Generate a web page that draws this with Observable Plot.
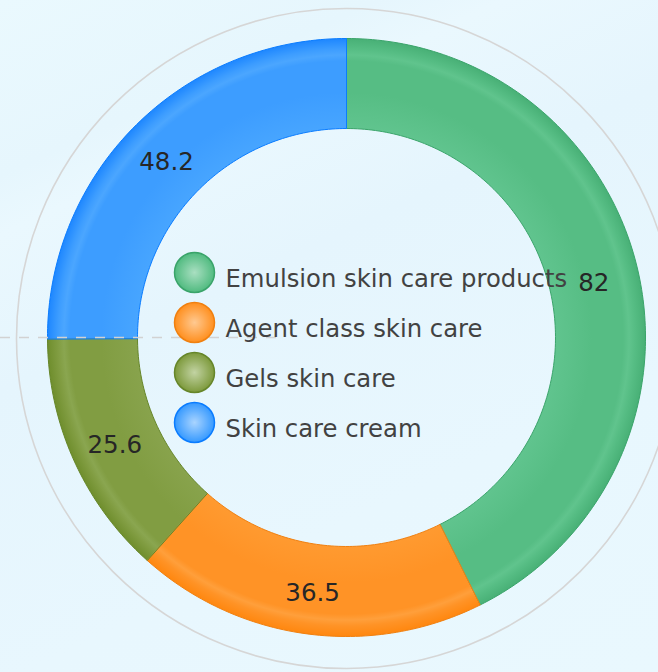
<!DOCTYPE html>
<html>
<head>
<meta charset="utf-8">
<script src="https://cdn.jsdelivr.net/npm/d3@7"></script>
<script src="https://cdn.jsdelivr.net/npm/@observablehq/plot@0.6"></script>
<style>
  html, body { margin: 0; padding: 0; }
  body {
    width: 658px; height: 672px; overflow: hidden;
    background: linear-gradient(155deg, #eaf9fe 0%, #e6f6fd 18%, #eaf8fe 24%, #e5f5fd 40%, #e8f7fe 70%, #e9f8fe 100%);
    font-family: "DejaVu Sans", sans-serif;
  }
  #chart { position: absolute; left: 0; top: 0; }
</style>
</head>
<body>
<div id="chart"></div>
<script>
// ---- data ----
const categories = ["Emulsion skin care products", "Agent class skin care", "Gels skin care", "Skin care cream"];
const values = [82, 36.5, 25.6, 48.2];
const labels = ["82", "36.5", "25.6", "48.2"];

// ---- style ----
const W = 658, H = 672;
const CX = 346, CY = 337, R_OUT = 299, R_IN = 209, R_RING = 330;
const palettes = [
  {inner: "#60c48e", mid: "#56bd84", hi: "#60c48d", edge: "#48b076", stroke: "#3aa46a", dotHi: "#a9dfc1"},
  {inner: "#ff9a30", mid: "#ff9326", hi: "#ff9f3b", edge: "#ff870f", stroke: "#f08010", dotHi: "#ffc991"},
  {inner: "#88a34c", mid: "#819d42", hi: "#8aa650", edge: "#6f8e2d", stroke: "#66862a", dotHi: "#c2d3a3"},
  {inner: "#47a5ff", mid: "#3d9dff", hi: "#4ba6ff", edge: "#1e87ff", stroke: "#0a7cff", dotHi: "#a9d4ff"}
];

const total = d3.sum(values);
let cum = 0;
const slices = values.map((v, i) => {
  const a0 = cum / total * 2 * Math.PI;
  cum += v;
  const a1 = cum / total * 2 * Math.PI;
  return {i, key: categories[i], value: v, label: labels[i], a0, a1};
});

// polygon points for each arc (angles from 12 o'clock, clockwise)
function arcPoints(s) {
  const pts = [];
  const n = Math.max(8, Math.ceil((s.a1 - s.a0) / (Math.PI / 180)));
  for (let k = 0; k <= n; k++) {
    const a = s.a0 + (s.a1 - s.a0) * k / n;
    pts.push({x: CX + R_OUT * Math.sin(a), y: CY - R_OUT * Math.cos(a)});
  }
  for (let k = n; k >= 0; k--) {
    const a = s.a0 + (s.a1 - s.a0) * k / n;
    pts.push({x: CX + R_IN * Math.sin(a), y: CY - R_IN * Math.cos(a)});
  }
  return pts;
}

const labelPts = slices.map(s => {
  const am = (s.a0 + s.a1) / 2, rm = (R_OUT + R_IN) / 2;
  return {x: CX + rm * Math.sin(am), y: CY - rm * Math.cos(am), label: s.label};
});

const legendRows = categories.map((c, i) => ({name: c, i, x: 194, y: 272 + i * 50}));

const marks = [
  Plot.dot([0], {x: () => CX, y: () => CY + 1, r: R_RING, stroke: "#d6d6d6", strokeWidth: 1.6, fill: "none"}),
  ...slices.map(s => Plot.line(arcPoints(s), {
    x: "x", y: "y", curve: "linear-closed",
    fill: `url(#sg${s.i})`, stroke: palettes[s.i].stroke, strokeWidth: 1
  })),
  Plot.ruleY([CY], {x1: 0, x2: 277, stroke: "#d2d2d2", strokeWidth: 1.5, strokeDasharray: "10,9"}),
  Plot.text(labelPts, {x: "x", y: "y", text: "label", dy: 4, fontSize: 24.5, fill: "#262626", fontFamily: "DejaVu Sans"}),
  ...legendRows.map(r => Plot.dot([r], {x: "x", y: "y", r: 20, fill: `url(#lg${r.i})`, stroke: palettes[r.i].stroke, strokeWidth: 1.5})),
  Plot.text(legendRows, {x: d => d.x + 31, y: "y", text: "name", textAnchor: "start", dy: 7, fontSize: 24.3, fill: "#424242", fontFamily: "DejaVu Sans"})
];

const svg = Plot.plot({
  width: W, height: H,
  margin: 0,
  x: {domain: [0, W], range: [0, W], axis: null},
  y: {domain: [0, H], range: [0, H], axis: null},
  style: {background: "transparent", overflow: "visible"},
  marks
});

// gradients
const defs = d3.select(svg).insert("defs", ":first-child");
palettes.forEach((p, i) => {
  const g = defs.append("radialGradient").attr("id", `sg${i}`)
    .attr("gradientUnits", "userSpaceOnUse").attr("cx", CX).attr("cy", CY).attr("r", R_OUT);
  [[0.70, p.inner], [0.82, p.mid], [0.925, p.mid], [0.945, p.hi], [0.965, p.mid], [1.0, p.edge]]
    .forEach(([o, c]) => g.append("stop").attr("offset", o).attr("stop-color", c));
  const l = defs.append("radialGradient").attr("id", `lg${i}`).attr("cx", 0.5).attr("cy", 0.5).attr("r", 0.55);
  [[0, p.dotHi], [0.85, p.mid], [1, p.edge]]
    .forEach(([o, c]) => l.append("stop").attr("offset", o).attr("stop-color", c));
});

document.getElementById("chart").appendChild(svg);
</script>
</body>
</html>
